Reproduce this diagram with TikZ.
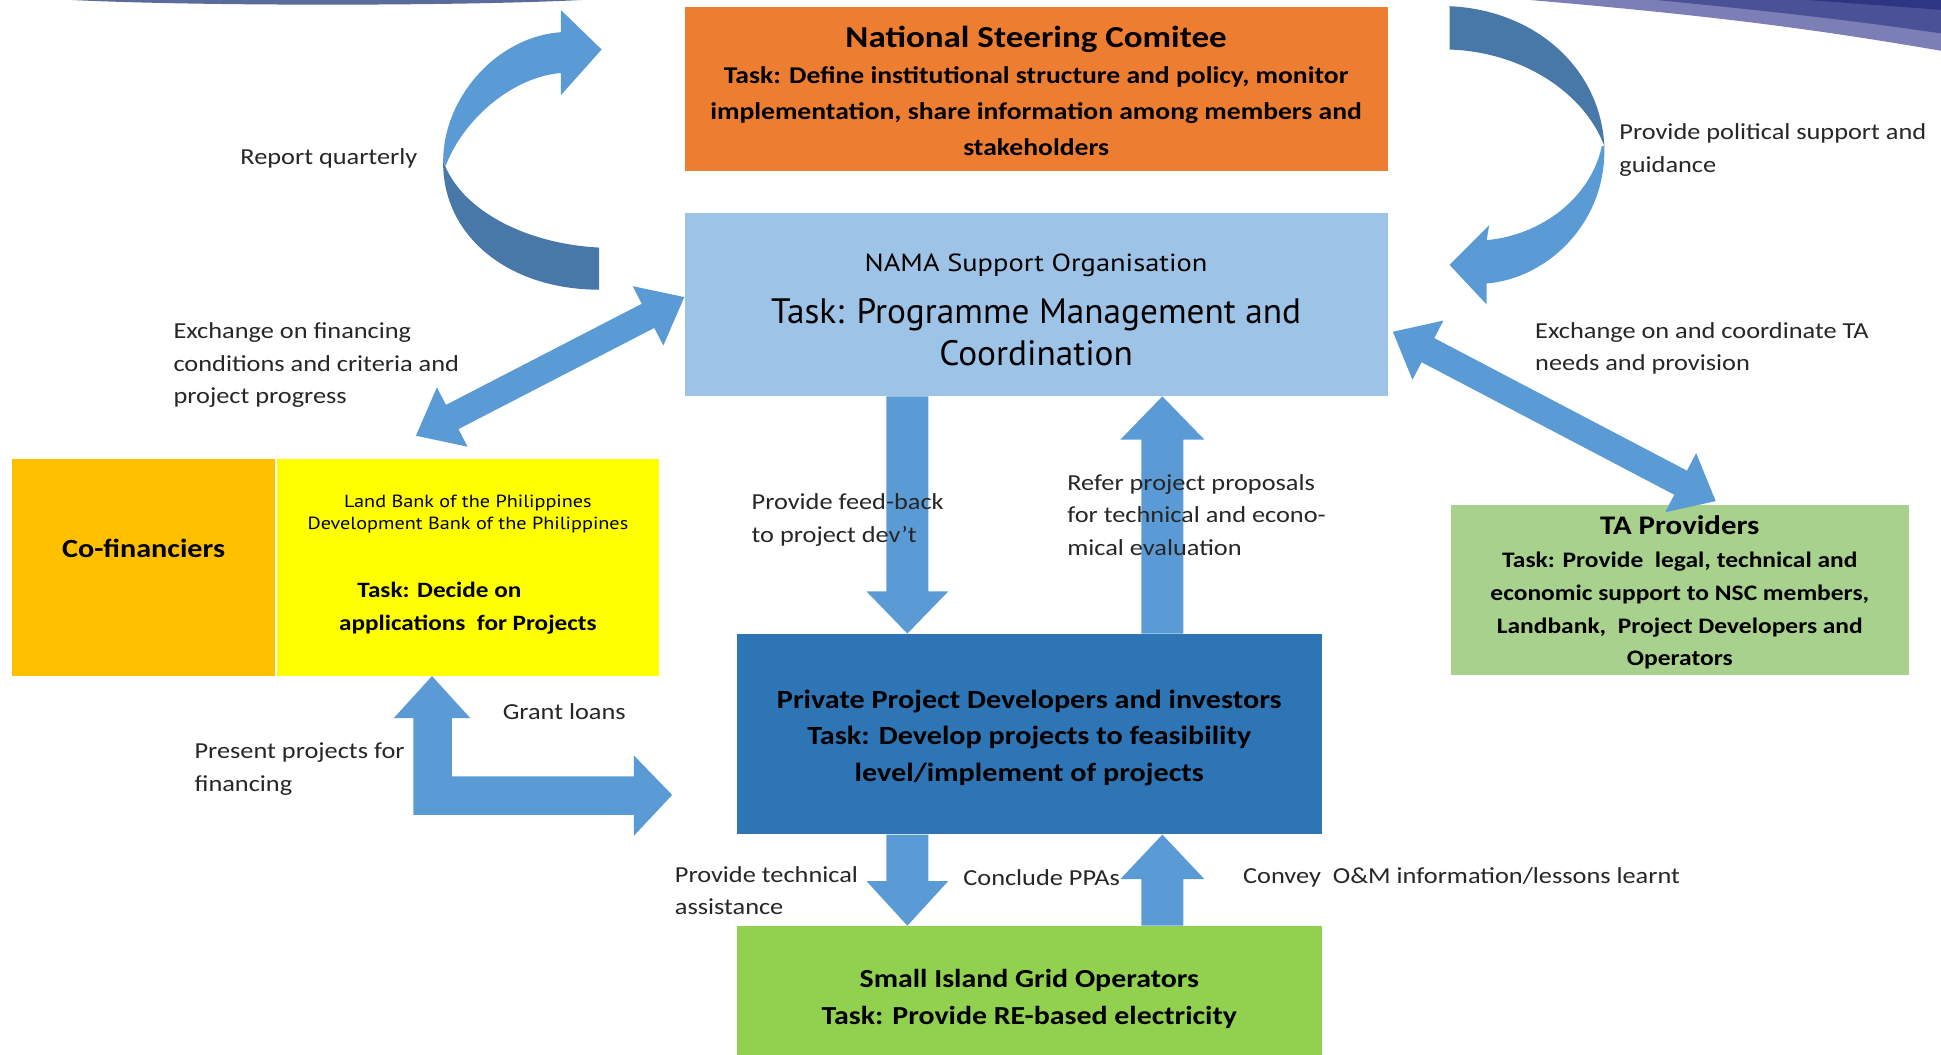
\documentclass[tikz,border=0pt]{standalone}
\usepackage{fontspec}
\setmainfont{Carlito}[FakeStretch=1.15]
\newfontfamily\ptsans{PT Sans}
\newfontfamily\ptwide{PT Sans}[FakeStretch=1.15]
\usetikzlibrary{calc}
\definecolor{arrowblue}{HTML}{5B9BD5}
\definecolor{arrowdark}{HTML}{4878A8}
\definecolor{nscorange}{HTML}{ED7D31}
\definecolor{namablue}{HTML}{9DC3E6}
\definecolor{cofinamber}{HTML}{FFC000}
\definecolor{bankyellow}{HTML}{FFFF00}
\definecolor{devblue}{HTML}{2E75B6}
\definecolor{tagreen}{HTML}{A9D18E}
\definecolor{gridgreen}{HTML}{92D050}
\definecolor{labelgray}{HTML}{262626}
\definecolor{stripedark}{HTML}{2E3582}
\definecolor{stripemid}{HTML}{4B5196}
\definecolor{stripelight}{HTML}{7C7EB6}
\definecolor{swoosh}{HTML}{5A6C9C}
\tikzset{
  org/.style={inner sep=0pt,align=center,text=black,text depth=0pt,font=\bfseries\fontsize{19}{29}\selectfont},
  note/.style={anchor=west,align=left,inner sep=0pt,text=labelgray,font=\fontsize{18.5}{26.5}\selectfont},
  barrow/.style={fill=arrowblue},
  bdark/.style={fill=arrowdark},
}
% block arrow: tail, tip, half shaft, half head, head length
\newcommand{\blockarrow}[5]{%
  \coordinate (ba-t) at (#1);
  \coordinate (ba-h) at (#2);
  \coordinate (ba-b) at ($(ba-h)!#5!(ba-t)$);
  \fill[barrow] ($(ba-t)!#3!90:(ba-h)$) -- ($(ba-b)!#3!90:(ba-h)$) -- ($(ba-b)!#4!90:(ba-h)$)
    -- (ba-h) -- ($(ba-b)!#4!-90:(ba-h)$) -- ($(ba-b)!#3!-90:(ba-h)$) -- ($(ba-t)!#3!-90:(ba-h)$) -- cycle;
}
% same with a head at both ends
\newcommand{\twowayarrow}[5]{%
  \coordinate (ba-t) at (#1);
  \coordinate (ba-h) at (#2);
  \coordinate (ba-b) at ($(ba-h)!#5!(ba-t)$);
  \coordinate (ba-c) at ($(ba-t)!#5!(ba-h)$);
  \fill[barrow] (ba-t) -- ($(ba-c)!#4!90:(ba-h)$) -- ($(ba-c)!#3!90:(ba-h)$) -- ($(ba-b)!#3!90:(ba-h)$)
    -- ($(ba-b)!#4!90:(ba-h)$) -- (ba-h) -- ($(ba-b)!#4!-90:(ba-h)$) -- ($(ba-b)!#3!-90:(ba-h)$)
    -- ($(ba-c)!#3!-90:(ba-h)$) -- ($(ba-c)!#4!-90:(ba-h)$) -- cycle;
}

\begin{document}
\begin{tikzpicture}[x=1pt,y=-1pt]
  \useasboundingbox (0,0) rectangle (1568,852);
  \clip (0,0) rectangle (1568,852);

  % slide decoration
  \fill[swoosh] (58,0) .. controls (160,5) and (370,5) .. (470,0) -- cycle;
  \fill[stripelight] (1236,0) .. controls (1400,14) and (1480,26) .. (1568,41) -- (1568,0) -- cycle;
  \fill[stripemid] (1338,0) .. controls (1440,10) and (1500,17) .. (1568,27) -- (1568,0) -- cycle;
  \fill[stripedark] (1460,0) .. controls (1500,3) and (1530,5) .. (1568,8) -- (1568,0) -- cycle;

  % organisations (text height puts the last baseline below the centre)
  \node[org,fill=nscorange,minimum width=568pt,minimum height=132pt,
        font=\bfseries\fontsize{19.4}{29}\selectfont,text height=107pt] (nsc) at (837,72)
    {{\fontsize{24.6}{29}\selectfont National Steering Comitee}\\
     Task: Define institutional structure and policy, monitor\\
     implementation, share information among members and\\
     stakeholders};
  \node[org,fill=namablue,minimum width=568pt,minimum height=148pt,
        font=\ptsans\fontsize{28.5}{34}\selectfont,text height=98pt] (nama) at (837,246)
    {{\ptwide\fontsize{20}{24}\selectfont NAMA Support Organisation}\\[8pt]
     Task: Programme Management and\\
     Coordination};
  \node[org,fill=cofinamber,minimum width=212pt,minimum height=175pt,
        font=\bfseries\fontsize{21.2}{26}\selectfont,text height=0pt,text depth=17pt] (cofin) at (116,458.5)
    {Co-financiers};
  \node[org,fill=bankyellow,minimum width=308pt,minimum height=175pt,
        font=\bfseries\fontsize{17.7}{26}\selectfont,text height=101pt] (lbp) at (378,458.5)
    {{\ptwide\mdseries\fontsize{14.2}{18}\selectfont Land Bank of the Philippines}\\[-8pt]
     {\ptwide\mdseries\fontsize{14.2}{18}\selectfont Development Bank of the Philippines}\\[29pt]
     \mbox{Task: Decide on\hspace{46pt}}\\
     applications~ for Projects};
  \node[org,fill=devblue,minimum width=473pt,minimum height=162pt,
        font=\bfseries\fontsize{21.2}{29.5}\selectfont,text height=76pt] (ppd) at (831.5,593)
    {Private Project Developers and investors\\
     Task: Develop projects to feasibility\\
     level/implement of projects};
  \node[org,fill=tagreen,minimum width=370pt,minimum height=137pt,
        font=\bfseries\fontsize{17.9}{26.5}\selectfont,text height=123pt] (ta) at (1357,476.5)
    {{\fontsize{21.7}{26.5}\selectfont TA Providers}\\
     Task: Provide~ legal, technical and\\
     economic support to NSC members,\\
     Landbank,~ Project Developers and\\
     Operators};
  \node[org,fill=gridgreen,minimum width=473pt,minimum height=116pt,
        font=\bfseries\fontsize{21}{30}\selectfont,text height=44pt] (grid) at (831.5,806)
    {Small Island Grid Operators\\
     Task: Provide RE-based electricity};

  % straight connectors
  \coordinate (fbx) at (733,0);
  \coordinate (rfx) at (939,0);
  \blockarrow{fbx |- nama.south}{fbx |- ppd.north}{17pt}{33pt}{34pt}
  \blockarrow{rfx |- ppd.north}{rfx |- nama.south}{17pt}{34pt}{35pt}
  \blockarrow{fbx |- ppd.south}{fbx |- grid.north}{17pt}{33pt}{36pt}
  \blockarrow{rfx |- grid.north}{rfx |- ppd.south}{17pt}{34pt}{36pt}
  \coordinate (fintip) at (336,352);
  \twowayarrow{fintip}{[yshift=6pt]nama.west}{11pt}{27pt}{33pt}
  \twowayarrow{[shift={(4pt,-22pt)}]nama.east}{[shift={(29pt,3pt)}]ta.north}{11pt}{27pt}{32pt}

  % loans: up to the banks and across to the developers
  \fill[barrow] ([xshift=-29pt]lbp.south) -- ++(31,34) -- ++(-15,0) -- ++(0,47) -- ++(147,0)
    -- ++(0,-17) -- ++(31,32) -- ++(-31,33) -- ++(0,-17) -- ++(-178,0) -- ++(0,-78)
    -- ++(-16,0) -- cycle;

  % curved arrow: reporting
  \fill[bdark] (484,200) .. controls (425,197) and (372,170) .. (358,130)
    .. controls (357,190) and (410,234) .. (484,234) -- cycle;
  \fill[barrow] (358,130) .. controls (358,80) and (400,30) .. (453,26) -- (453,8) -- (486,40)
    -- (453,77) -- (453,59) .. controls (415,62) and (375,95) .. (360,134) -- cycle;

  % curved arrow: political support
  \fill[bdark] (1171,5) .. controls (1240,8) and (1293,55) .. (1296,118)
    .. controls (1280,75) and (1230,42) .. (1171,40) -- cycle;
  \fill[barrow] (1296,118) .. controls (1298,180) and (1250,225) .. (1201,229) -- (1201,246)
    -- (1171,214) -- (1203,182) -- (1201,194) .. controls (1245,190) and (1285,160) .. (1294,118) -- cycle;

  % labels
  \node[note] (rq) at (194,128) {Report quarterly};
  \node[note] (fincond) at (140,295) {Exchange on financing\\conditions and criteria and\\project progress};
  \node[note] (polsup) at (1308,121.5) {Provide political support and\\guidance};
  \node[note] (tacoord) at (1240,281.5) {Exchange on and coordinate TA\\needs and provision};
  \node[note] (feedback) at (607,420) {Provide feed-back\\to project dev’t};
  \node[note] (refer) at (862,416) {Refer project proposals\\for technical and econo-\\mical evaluation};
  \node[note] (grant) at (406,575) {Grant loans};
  \node[note] (present) at (157,621) {Present projects for\\financing};
  \node[note] (techass) at (545,719.5) {Provide technical\\assistance};
  \node[note] (ppas) at (778,709) {Conclude PPAs};
  \node[note] (convey) at (1004,709) {Convey~ O\&M information/lessons learnt};
\end{tikzpicture}
\end{document}
